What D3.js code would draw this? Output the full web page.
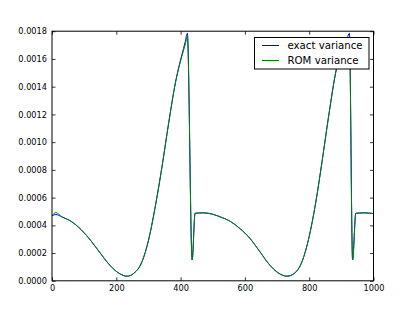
<!DOCTYPE html>
<html>
	<head>
		<meta charset="utf-8">
		<title>variance</title>
		<style>
			body { margin: 0; background: #fff; }
			text { font-family: "DejaVu Sans", sans-serif; }
		</style>
	</head>
	<body>
		<script src="https://d3js.org/d3.v7.min.js"></script>
		<div id="wrapper"></div>
	</body>
</html>

<script>
	// data
	var xs = [0, 12, 30, 60, 90, 120, 150, 180, 210, 233, 255, 280, 300, 320, 342, 363, 384, 404, 414, 421, 436, 445, 470, 500, 522, 555, 585, 616, 645, 675, 705, 731, 755, 778, 800, 820, 840, 860, 885, 905, 918, 925, 935, 945, 970, 1000];
	var exact = [0.00047, 0.000478, 0.000462, 0.000428, 0.00037, 0.000292, 0.0002, 0.000112, 0.000052, 0.000033, 0.000055, 0.000138, 0.00029, 0.00052, 0.00082, 0.00114, 0.00143, 0.00163, 0.00172, 0.001785, 0.00015, 0.000487, 0.00049, 0.00048, 0.000462, 0.000428, 0.000376, 0.000305, 0.000215, 0.00012, 0.000055, 0.000033, 0.000056, 0.00014, 0.00032, 0.00056, 0.00086, 0.00118, 0.00153, 0.00168, 0.00175, 0.001785, 0.00015, 0.000487, 0.00049, 0.000485];
	var rom = [0.00047, 0.000492, 0.000462, 0.000428, 0.00037, 0.000292, 0.0002, 0.000112, 0.000052, 0.000033, 0.000055, 0.000138, 0.00029, 0.00052, 0.00082, 0.00114, 0.00143, 0.00162, 0.0017, 0.00176, 0.00015, 0.000487, 0.00049, 0.00048, 0.000462, 0.000428, 0.000376, 0.000305, 0.000215, 0.00012, 0.000055, 0.000033, 0.000056, 0.00014, 0.00032, 0.00056, 0.00086, 0.00118, 0.00153, 0.00167, 0.00173, 0.00176, 0.00015, 0.000487, 0.00049, 0.000485];
	var xTicks = [0, 200, 400, 600, 800, 1000];
	var yTicks = [0, 0.0002, 0.0004, 0.0006, 0.0008, 0.0010, 0.0012, 0.0014, 0.0016, 0.0018];
	var seriesNames = ["exact variance", "ROM variance"];
	var seriesColors = ["#0000ff", "#008000"];

	function drawChart() {
		var w = 415;
		var h = 312;
		var mLeft = 52, mRight = 373.5, mTop = 31.2, mBottom = 280.8;

		var svg = d3.select("#wrapper")
					.append("svg")
					.attr("width", w)
					.attr("height", h);

		var x = d3.scaleLinear().domain([0, 1000]).range([mLeft, mRight]);
		var y = d3.scaleLinear().domain([0, 0.0018]).range([mBottom, mTop]);

		// clip to the axes box
		svg.append("clipPath").attr("id", "clip")
			.append("rect")
			.attr("x", mLeft).attr("y", mTop)
			.attr("width", mRight - mLeft).attr("height", mBottom - mTop);

		var line = d3.line()
					.x(function(d) { return x(d[0]); })
					.y(function(d) { return y(d[1]); })
					.curve(d3.curveMonotoneX);

		[exact, rom].forEach(function(vals, i) {
			svg.append("path")
				.datum(xs.map(function(v, j) { return [v, vals[j]]; }))
				.attr("d", line)
				.attr("clip-path", "url(#clip)")
				.style("fill", "none")
				.style("stroke", seriesColors[i])
				.style("stroke-width", 1);
		});

		// axes, ticks pointing inside
		var tl = 3.5;
		var axB = svg.append("g").attr("transform", "translate(0," + mBottom + ")")
			.call(d3.axisBottom(x).tickValues(xTicks).tickSize(-tl).tickPadding(4).tickFormat(d3.format("d")));
		var axT = svg.append("g").attr("transform", "translate(0," + mTop + ")")
			.call(d3.axisTop(x).tickValues(xTicks).tickSize(-tl).tickFormat(""));
		var axL = svg.append("g").attr("transform", "translate(" + mLeft + ",0)")
			.call(d3.axisLeft(y).tickValues(yTicks).tickSize(-tl).tickPadding(5).tickFormat(d3.format(".4f")));
		var axR = svg.append("g").attr("transform", "translate(" + mRight + ",0)")
			.call(d3.axisRight(y).tickValues(yTicks).tickSize(-tl).tickFormat(""));
		[axB, axT, axL, axR].forEach(function(a) {
			a.select(".domain").remove();
			a.selectAll("line").style("stroke", "#000").style("stroke-width", 0.8);
			a.selectAll("text").style("font-family", "DejaVu Sans").style("font-size", "8.2px").style("fill", "#000");
		});

		// frame
		svg.append("rect")
			.attr("x", mLeft).attr("y", mTop)
			.attr("width", mRight - mLeft).attr("height", mBottom - mTop)
			.style("fill", "none")
			.style("stroke", "#000")
			.style("stroke-width", 1);

		// legend
		var lg = svg.append("g");
		lg.append("rect")
			.attr("x", 254.5).attr("y", 37.5)
			.attr("width", 114.5).attr("height", 31.5)
			.style("fill", "#fff")
			.style("stroke", "#000")
			.style("stroke-width", 1);
		seriesNames.forEach(function(name, i) {
			var ly = 45.5 + i * 15;
			lg.append("line")
				.attr("x1", 262).attr("x2", 279)
				.attr("y1", ly).attr("y2", ly)
				.style("stroke", seriesColors[i])
				.style("stroke-width", 1);
			lg.append("text")
				.attr("x", 287.5).attr("y", ly + 3.6)
				.style("font-size", "10.2px")
				.style("fill", "#000")
				.text(name);
		});
	}
	drawChart();
</script>
